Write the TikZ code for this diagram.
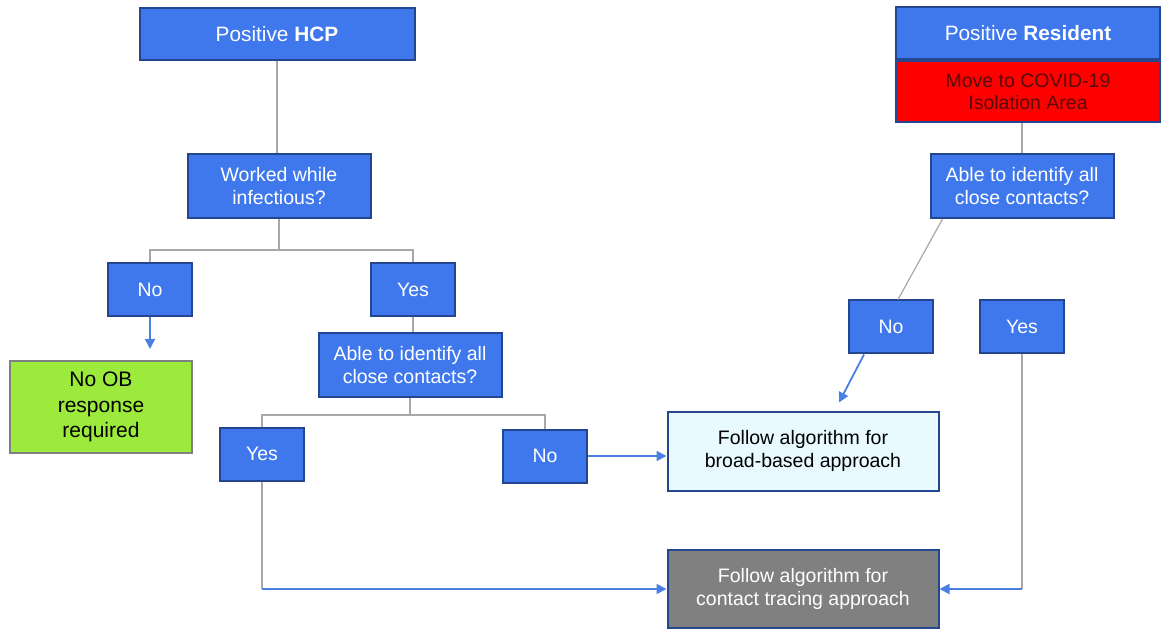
\documentclass[tikz,border=0pt]{standalone}
\usepackage{fontspec}
\setmainfont{Liberation Sans}
\usepackage{tikz}
\usetikzlibrary{arrows.meta,positioning}
\definecolor{bxblue}{HTML}{3F78EC}
\definecolor{bxedge}{HTML}{24468F}
\definecolor{lnkgray}{HTML}{A8A8A8}
\definecolor{lnkblue}{HTML}{4A80E2}
\definecolor{okgreen}{HTML}{9CEB3C}
\definecolor{pale}{HTML}{E8FAFF}
\definecolor{isored}{HTML}{FF0000}
\definecolor{isotxt}{HTML}{5A0808}
\tikzstyle{bluebx}=[rectangle, draw=bxedge, fill=bxblue, line width=1pt, text=white, align=center, inner sep=0pt, font=\fontsize{9.75}{11.2}\selectfont]
\tikzstyle{titlebx}=[bluebx, minimum height=26pt, font=\fontsize{10.4}{12}\selectfont]
\tikzstyle{ynbx}=[bluebx, minimum width=42pt, minimum height=26.5pt]
\tikzstyle{qbx}=[bluebx, minimum width=91.5pt, minimum height=32pt]
\tikzstyle{lnk}=[draw=lnkgray, line width=0.6pt]
\tikzstyle{arr}=[draw=lnkblue, line width=0.9pt, -{Triangle[length=5pt,width=5pt]}]

\begin{document}
\begin{tikzpicture}[x=0.5pt,y=-0.5pt]
			\useasboundingbox (0,0) rectangle (1161,630);
			% HCP side
			\node[titlebx, minimum width=137.5pt] (hcp) at (277,34) {Positive \textbf{HCP}};
			\node[qbx] (worked) at (279,186) {Worked while\\infectious?};
			\node[ynbx] (no1) at (150,290) {No};
			\node[ynbx] (yes1) at (413,290) {Yes};
			\node[rectangle, draw=gray, fill=okgreen, line width=1pt, minimum width=91pt, minimum height=46pt,
				align=center, inner sep=0pt, font=\fontsize{10.5}{12.7}\selectfont] (noob) at (101,407) {No OB\\response\\required};
			\node[qbx] (able1) at (410,365) {Able to identify all\\close contacts?};
			\node[ynbx] (yes2) at (262,454) {Yes};
			\node[ynbx] (no2) at (545,456) {No};

			% outcome boxes
			\node[bluebx, fill=pale, text=black, minimum width=135.5pt, minimum height=39.5pt] (broad) at (803,451) {Follow algorithm for\\broad-based approach};
			\node[bluebx, fill=gray, minimum width=135.5pt, minimum height=39pt] (contact) at (803,589) {Follow algorithm for\\contact tracing approach};

			% resident side
			\node[titlebx, minimum width=132pt] (resident) at (1028,33) {Positive \textbf{Resident}};
			\node[bluebx, fill=isored, text=isotxt, minimum width=132pt, minimum height=30.5pt, below=0pt of resident] (isolation) {Move to COVID-19\\Isolation Area};
			\node[qbx] (able3) at (1022,186) {Able to identify all\\close contacts?};
			\node[ynbx] (no3) at (891,327) {No};
			\node[ynbx] (yes3) at (1022,327) {Yes};

			\coordinate (split1) at (279,250);
			\coordinate (split2) at (410,415);

			\draw[lnk] (hcp.south) -- (hcp.south |- worked.north);
			\draw[lnk] (worked.south) -- (split1);
			\draw[lnk] (no1.north) |- (split1) -| (yes1.north);
			\draw[arr, shorten >=5.5pt] (no1.south) -- (no1.south |- noob.north);
			\draw[lnk] (yes1.south) -- (yes1.south |- able1.north);
			\draw[lnk] (able1.south) -- (split2);
			\draw[lnk] (yes2.north) |- (split2) -| (no2.north);
			\draw[arr] (no2.east) -- (no2.east -| broad.west);
			\draw[lnk] (yes2.south) -- (yes2.south |- contact.west);
			\draw[arr] (yes2.south |- contact.west) -- (contact.west);

			\draw[lnk] (able3.north |- isolation.south) -- (able3.north);
			\draw[lnk] ([xshift=6.5pt]able3.south west) -- ([xshift=3.5pt]no3.north);
			\draw[arr] ([xshift=-13.5pt]no3.south) -- ([xshift=18pt,yshift=4pt]broad.north);
			\draw[lnk] (yes3.south) -- (yes3.south |- contact.east);
			\draw[arr] (yes3.south |- contact.east) -- (contact.east);
		\end{tikzpicture}
\end{document}
